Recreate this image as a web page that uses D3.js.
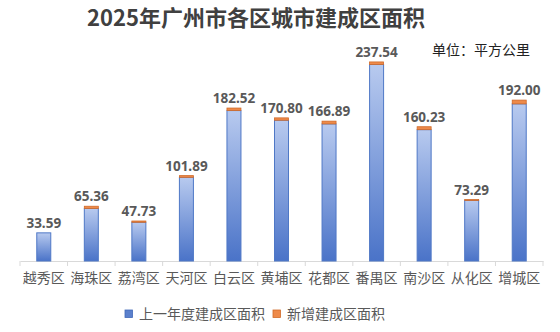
<!DOCTYPE html>
<html>
<head>
<meta charset="utf-8">
<script src="https://cdn.jsdelivr.net/npm/d3@7"></script>
<style>
  body { margin: 0; background: #fff; }
  svg { display: block; font-family: "Noto Sans CJK SC", "Noto Sans", sans-serif; }
</style>
</head>
<body>
<div id="chart"></div>
<script>
// districts and areas (km²)
var districts = ["越秀区", "海珠区", "荔湾区", "天河区", "白云区", "黄埔区", "花都区", "番禺区", "南沙区", "从化区", "增城区"];
var prevArea = [33.59, 62.76, 46.23, 99.89, 179.52, 168.00, 163.59, 234.54, 156.73, 72.29, 187.50];
var newArea = [0.00, 2.60, 1.50, 2.00, 3.00, 2.80, 3.30, 3.00, 3.50, 1.00, 4.50];
var seriesNames = ["上一年度建成区面积", "新增建成区面积"];

var W = 560, H = 332;
var svg = d3.select("#chart").append("svg")
    .attr("width", W)
    .attr("height", H);

var x = d3.scaleBand().domain(districts).range([20, 543]);
var y = d3.scaleLinear().domain([0, 250]).range([261, 51.5]);
var BAR_W = 14;

var defs = svg.append("defs");
var grad = defs.append("linearGradient")
    .attr("id", "blueGrad")
    .attr("x1", 0).attr("y1", 0).attr("x2", 0).attr("y2", 1);
grad.append("stop").attr("offset", "0%").attr("stop-color", "#b8caef");
grad.append("stop").attr("offset", "100%").attr("stop-color", "#4a73c8");

// title + unit
svg.append("text")
    .attr("x", 256).attr("y", 26)
    .attr("text-anchor", "middle")
    .attr("font-size", 22)
    .attr("font-weight", "bold")
    .attr("fill", "#404040")
    .text("2025年广州市各区城市建成区面积");
svg.append("text")
    .attr("x", 432).attr("y", 55)
    .attr("font-size", 14)
    .attr("fill", "#222")
    .text("单位：平方公里");

// axis
var axis = svg.append("g")
    .attr("transform", "translate(0," + y(0) + ")")
    .call(d3.axisBottom(x).tickSize(0).tickPadding(12));
axis.select(".domain").attr("stroke", "#d9d9d9");
axis.selectAll(".tick text")
    .attr("font-size", 14)
    .attr("fill", "#595959")
    .attr("font-family", "'Noto Sans CJK SC', sans-serif");

// tick marks at band edges
var edges = districts.map(function(d) { return x(d); }).concat([x.range()[1]]);
svg.selectAll("line.edge").data(edges)
    .enter().append("line")
    .attr("class", "edge")
    .attr("x1", function(d) { return d; })
    .attr("x2", function(d) { return d; })
    .attr("y1", y(0))
    .attr("y2", y(0) + 5)
    .attr("stroke", "#d9d9d9");

var data = districts.map(function(d, i) {
    return { name: d, prev: prevArea[i], add: newArea[i], total: prevArea[i] + newArea[i] };
});

var bars = svg.selectAll("g.bar").data(data).enter().append("g").attr("class", "bar");

bars.append("rect")
    .attr("x", function(d) { return x(d.name) + x.bandwidth() / 2 - BAR_W / 2; })
    .attr("y", function(d) { return y(d.prev); })
    .attr("width", BAR_W)
    .attr("height", function(d) { return y(0) - y(d.prev); })
    .attr("fill", "url(#blueGrad)")
    .attr("stroke", "#4f78c6")
    .attr("stroke-width", 1);

bars.filter(function(d) { return d.add > 0; }).append("rect")
    .attr("x", function(d) { return x(d.name) + x.bandwidth() / 2 - BAR_W / 2; })
    .attr("y", function(d) { return y(d.total); })
    .attr("width", BAR_W)
    .attr("height", function(d) { return y(d.prev) - y(d.total); })
    .attr("fill", "#ee8a4a")
    .attr("stroke", "#d06a28")
    .attr("stroke-width", 0.8);

bars.append("text")
    .attr("x", function(d) { return x(d.name) + x.bandwidth() / 2; })
    .attr("y", function(d) { return y(d.total) - 5; })
    .attr("text-anchor", "middle")
    .attr("font-size", 13.5)
    .attr("font-weight", "bold")
    .attr("fill", "#595959")
    .attr("font-family", "'Noto Sans', sans-serif")
    .text(function(d) { return d3.format(".2f")(d.total); });

// legend
var legendX = [125, 273];
var legend = svg.selectAll("g.legend").data(seriesNames).enter().append("g")
    .attr("class", "legend")
    .attr("transform", function(d, i) { return "translate(" + legendX[i] + ",310)"; });
legend.append("rect")
    .attr("width", 7.5).attr("height", 7.5)
    .attr("fill", function(d, i) { return i === 0 ? "#5b80cc" : "#ee8a4a"; })
    .attr("stroke", function(d, i) { return i === 0 ? "#4068b8" : "#d06a28"; })
    .attr("stroke-width", 0.8);
legend.append("text")
    .attr("x", 14).attr("y", 8.5)
    .attr("font-size", 14)
    .attr("fill", "#595959")
    .text(function(d) { return d; });
</script>
</body>
</html>
